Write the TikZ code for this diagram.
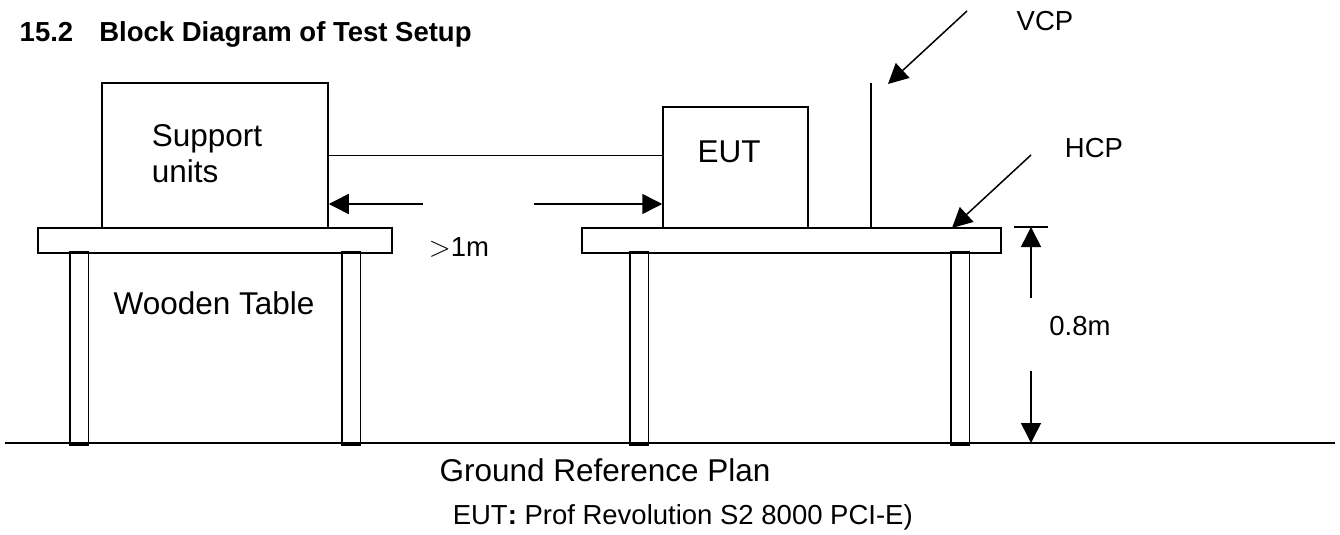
\documentclass[tikz,border=0pt]{standalone}
\usepackage{fontspec}
\setmainfont{Liberation Sans}
\usepackage{tikz}
\usetikzlibrary{arrows.meta}

\tikzset{
	bigtext/.style={font=\fontsize{15.75}{18}\selectfont},
	smalltext/.style={font=\fontsize{13.75}{16}\selectfont},
	unitbox/.style={rectangle, draw, line width=0.75pt, inner sep=0pt},
}

\begin{document}
\begin{tikzpicture}[x=0.5pt, y=-0.5pt, line width=0.75pt, >={Triangle[length=10pt, width=10pt]}]
		\useasboundingbox (0,0) rectangle (1340,535);
		
		\node (title) [anchor=base west, inner sep=0pt, font=\fontsize{13.75}{16}\selectfont\bfseries] at (19,42) {15.2\hspace{13pt}Block Diagram of Test Setup};
		
		% ground and tables
		\draw (5,443) -- (1335,443);
		\draw (38,228) rectangle (392,253);
		\draw (582,228) rectangle (1001,253);
		\foreach \lx in {70,342,630,951}
			\draw (\lx,252) rectangle (\lx+18.5,445);
		
		\node (suppbox) [unitbox, minimum width=113pt, minimum height=72.5pt] at (215,155.5) {};
		\node (supptext) [bigtext, anchor=west, align=left, inner sep=0pt] at (151,154) {Support\\units};
		
		\node (eutbox) [unitbox, minimum width=72.5pt, minimum height=60.5pt] at (735.5,167.5) {};
		\node (euttext) [bigtext] at (729,152) {EUT};
		
		\node (wood) [bigtext] at (214,303) {Wooden Table};
		\node (ground) [bigtext] at (605,470) {Ground Reference Plan};
		\node (eutname) [smalltext, anchor=west, inner sep=0pt] at (452,517) {EUT\textbf{:} Prof Revolution S2 8000 PCI-E)};
		
		% cable
		\draw (suppbox.east) -- (suppbox.east -| eutbox.west);
		
		% distance >1m
		\coordinate (distl) at (423,204);
		\coordinate (distr) at (534,204);
		\draw [->] (distl) to (suppbox.east |- distl);
		\draw [->] (distr) to (eutbox.west |- distr);
		\node (dist) [smalltext] at (459,247) {\(>\)1m};
		
		% vertical and horizontal coupling planes
		\coordinate (vcptop) at (871,83);
		\coordinate (vcpbot) at (871,228);
		\draw (vcptop) -- (vcpbot);
		\node (vcp) [smalltext] at (1045,21) {VCP};
		\coordinate (vcpfrom) at (967,11);
		\coordinate (vcptip) at (888,84);
		\draw [->] (vcpfrom) to (vcptip);
		\node (hcp) [smalltext] at (1094,148) {HCP};
		\coordinate (hcpfrom) at (1031,155);
		\coordinate (hcptip) at (952,228);
		\draw [->] (hcpfrom) to (hcptip);
		
		% table height 0.8m
		\coordinate (htop) at (1031,227);
		\coordinate (hbot) at (1031,443);
		\draw (1014,227) -- (1048,227);
		\draw [->] (1031,298) to (htop);
		\draw [->] (1031,371) to (hbot);
		\node (height) [smalltext] at (1080,326) {0.8m};
		
\end{tikzpicture}
\end{document}
